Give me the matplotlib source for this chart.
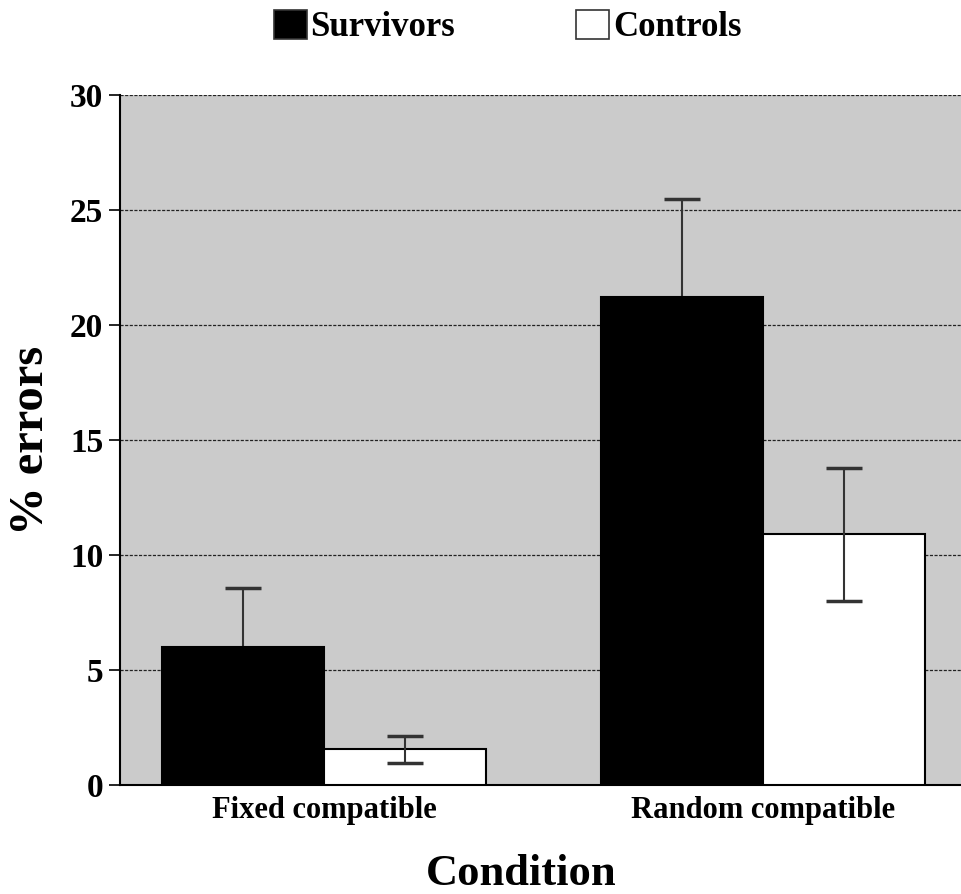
import numpy as np
import matplotlib
matplotlib.use('Agg')
import matplotlib.pyplot as plt
from matplotlib.patches import Patch

plt.rcParams.update({
    'font.family': 'Liberation Serif',
    'font.weight': 'bold',
    'axes.labelweight': 'bold',
})

CONDITIONS = ['Fixed compatible', 'Random compatible']
GROUPS     = ['Survivors', 'Controls']
MEANS = {'Survivors': [6.0, 21.2], 'Controls': [1.55, 10.9]}
ERRS  = {'Survivors': [2.55, 4.3], 'Controls': [0.6, 2.9]}
COLORS = {'Survivors': 'black', 'Controls': 'white'}
YTICKS = [0, 5, 10, 15, 20, 25, 30]

fig = plt.figure(figsize=(9.62, 8.94), dpi=100)
ax = fig.add_axes([0.1247, 0.1219, 0.8753, 0.7718])
ax.set_facecolor('#cbcbcb')

x = np.arange(len(CONDITIONS))
w = 0.369
for i, g in enumerate(GROUPS):
    ax.bar(x + (i - 0.5) * w, MEANS[g], width=w, color=COLORS[g],
           edgecolor='black', linewidth=1.5, zorder=3)
    # survivors' lower whisker sits behind the black bar
    ax.errorbar(x + (i - 0.5) * w, MEANS[g], yerr=ERRS[g], fmt='none',
                ecolor='#333333', elinewidth=1.5, capsize=13, capthick=2.5,
                zorder=2 if g == 'Survivors' else 4)

ax.set_xlim(-0.465, 1.453)
ax.set_ylim(0, 30)
ax.set_yticks(YTICKS)
ax.set_xticks(x)
ax.set_xticklabels(CONDITIONS, fontsize=22)
ax.tick_params(axis='y', labelsize=24, length=8, width=1.2, pad=4)
ax.tick_params(axis='x', length=0, pad=8)
ax.yaxis.grid(True, linestyle=(0, (2.5, 1.2)), color='#222222', linewidth=0.9)
ax.set_axisbelow(True)

for s in ['top', 'right']:
    ax.spines[s].set_visible(False)
for s in ['left', 'bottom']:
    ax.spines[s].set_linewidth(1.5)

ax.set_ylabel('% errors', fontsize=35, labelpad=12)
ax.set_xlabel('Condition', fontsize=32)
ax.xaxis.set_label_coords(0.477, -0.100)

handles = [Patch(facecolor=COLORS[g], edgecolor='#333333', linewidth=1.2, label=g) for g in GROUPS]
fig.legend(handles=handles, loc='center', bbox_to_anchor=(0.5276, 1 - 27 / 894), ncol=2,
           frameon=False, fontsize=25, handlelength=0.95, handleheight=0.95,
           handletextpad=0.1, columnspacing=3.5, borderaxespad=0)

plt.savefig('out.png', dpi=100)
